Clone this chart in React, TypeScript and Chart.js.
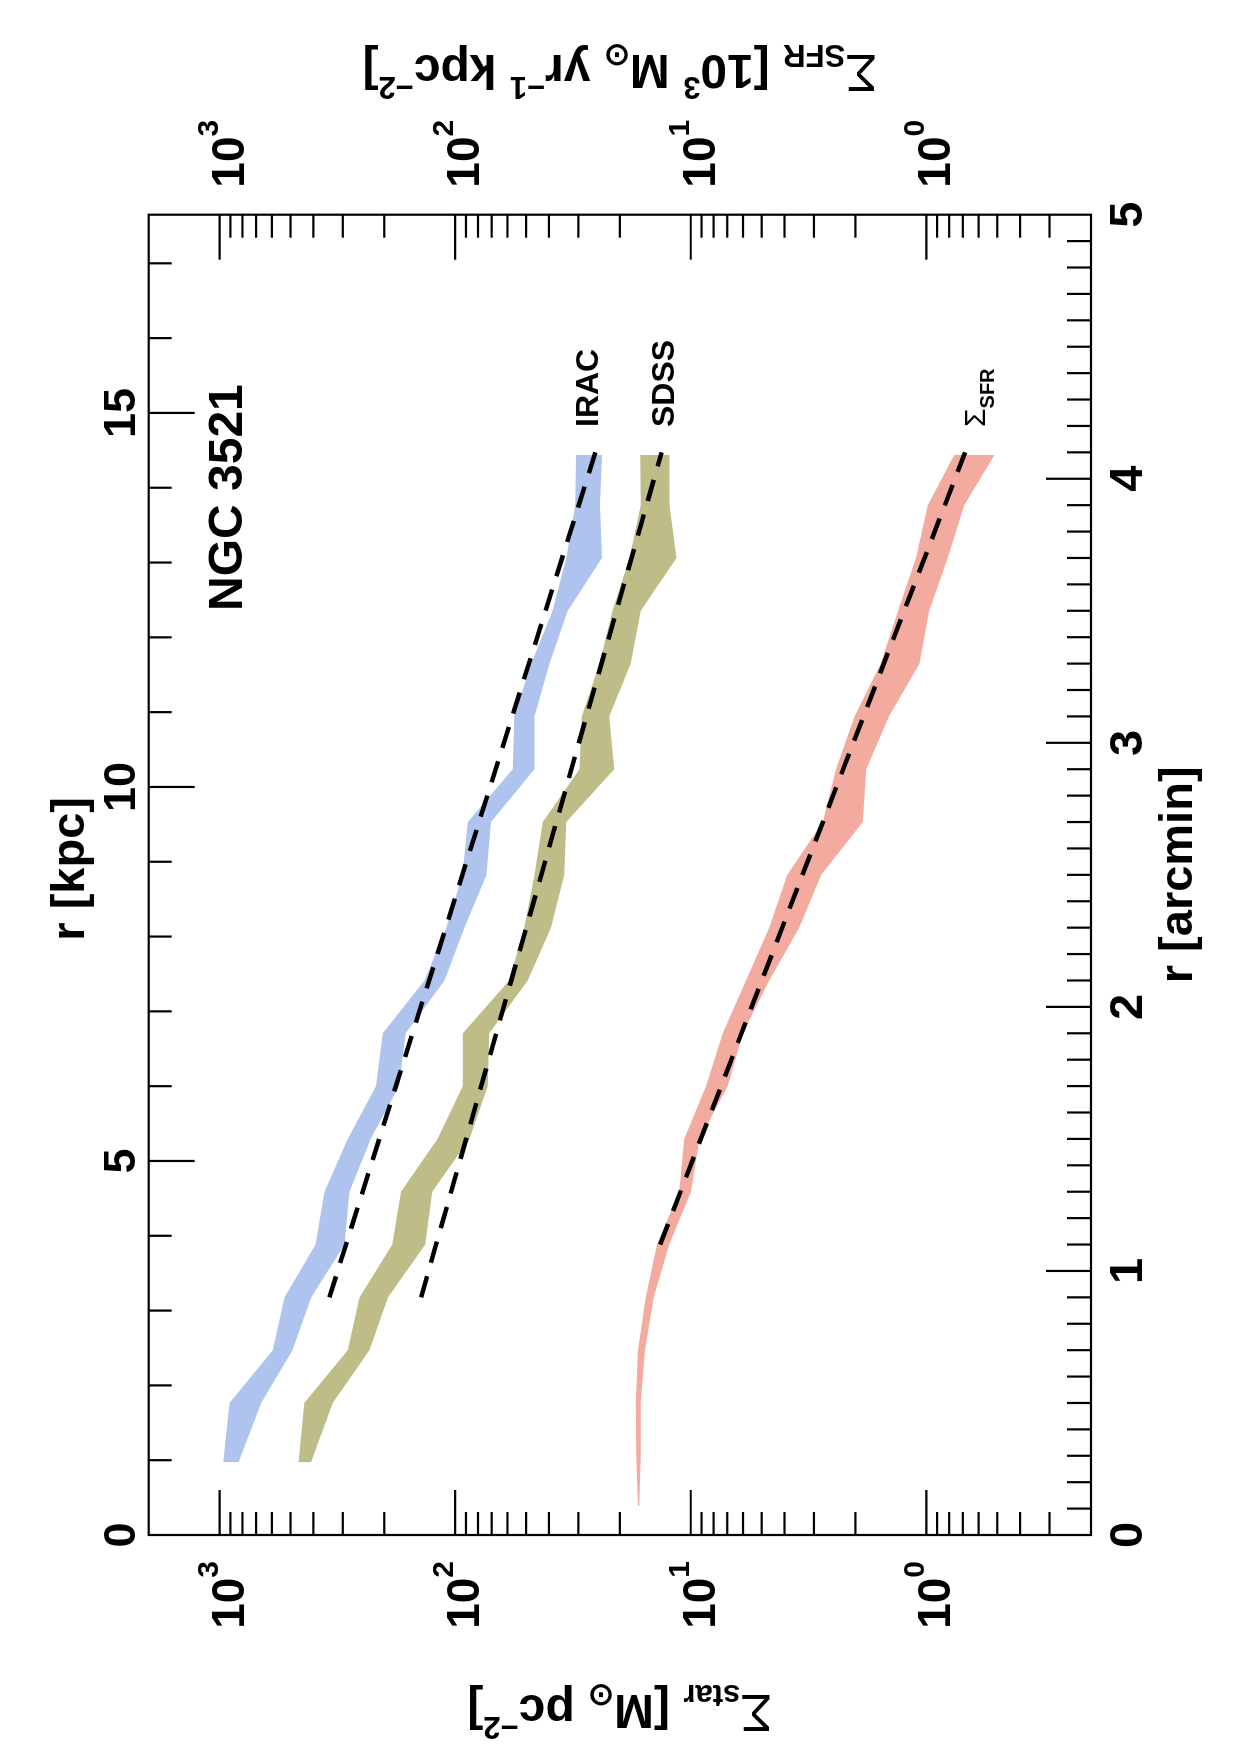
import { useEffect, useRef } from "react";
import { Chart, registerables } from "chart.js";

Chart.register(...registerables);

// Radial samples (arcmin) of the stellar-mass profiles
const R_STAR = [0.275, 0.5, 0.7, 0.9, 1.1, 1.3, 1.5, 1.7, 1.9, 2.1, 2.3, 2.5, 2.7, 2.9, 3.1, 3.3, 3.5, 3.7, 3.9, 4.09];
const IRAC_UPPER = [964, 909, 595, 531, 392, 359, 286, 217, 203, 135, 109, 93.2, 88.5, 57.0, 56.1, 47.5, 38.6, 33.8, 30.9, 30.7];
const IRAC_LOWER = [832, 665, 491, 408, 295, 281, 228, 173, 162, 111, 91.4, 73.7, 70.4, 46.1, 46.1, 39.8, 33.3, 23.8, 24.3, 23.8];
const SDSS_UPPER = [463, 437, 286, 255, 185, 170, 119, 92.9, 92.9, 58.9, 50.9, 46.1, 42.5, 29.7, 29.0, 24.4, 21.5, 18.2, 16.3, 16.4];
const SDSS_LOWER = [409, 331, 231, 193, 134, 125, 87.0, 72.8, 71.6, 49.2, 39.2, 34.4, 33.8, 21.1, 22.2, 18.0, 16.3, 11.5, 12.3, 12.3];

// Radial samples (arcmin) of the star-formation-rate profile
const R_SFR = [0.11, 0.3, 0.5, 0.7, 0.9, 1.1, 1.3, 1.5, 1.7, 1.9, 2.1, 2.3, 2.5, 2.7, 2.9, 3.1, 3.3, 3.5, 3.7, 3.9, 4.09];
const SFR_UPPER = [16.75, 17.05, 17.12, 16.75, 15.52, 13.9, 11.18, 10.65, 8.61, 7.32, 5.83, 4.64, 3.89, 2.75, 2.42, 2.02, 1.56, 1.32, 1.106, 0.987, 0.761];
const SFR_LOWER = [16.53, 16.3, 16.3, 15.63, 14.37, 12.35, 9.97, 9.19, 6.97, 6.02, 4.64, 3.46, 2.79, 1.86, 1.8, 1.44, 1.07, 0.971, 0.812, 0.69, 0.514];

// Exponential-disc fits (end points)
const FIT_STAR_R = [0.9, 4.1];
const IRAC_FIT = [342, 25.4];
const SDSS_FIT = [139.6, 13.3];
const FIT_SFR_R = [1.1, 4.1];
const SFR_FIT = [13.49, 0.684];

// Axes
const ARCMIN_TICKS = [0, 1, 2, 3, 4, 5];
const KPC_TICKS = [0, 5, 10, 15];
const SIGMA_DECADES = [0, 1, 2, 3];
const KPC_PER_ARCMIN = 3.53;
const R_MAX = 5;
const SIGMA_MIN = 0.2;
const SIGMA_MAX = 2000;

const FONT = "'Liberation Sans', Arial, Helvetica, sans-serif";
const BLUE = "#aec4ef";
const OLIVE = "#bfbd87";
const SALMON = "#f3aba0";

type Seg = { t: string; f: string; dy?: number };

function drawRich(ctx: CanvasRenderingContext2D, segs: Seg[], x: number, y: number, align: "left" | "center" | "right") {
  let w = 0;
  for (const s of segs) {
    ctx.font = s.f;
    w += ctx.measureText(s.t).width;
  }
  let cx = align === "left" ? x : align === "center" ? x - w / 2 : x - w;
  ctx.textAlign = "left";
  ctx.textBaseline = "alphabetic";
  for (const s of segs) {
    ctx.font = s.f;
    ctx.fillText(s.t, cx, y + (s.dy || 0));
    cx += ctx.measureText(s.t).width;
  }
}

const pts = (xs: number[], ys: number[]) => xs.map((x, i) => ({ x, y: ys[i] }));

const framePlugin = {
  id: "frame",
  afterDatasetsDraw(chart: any) {
    const ctx: CanvasRenderingContext2D = chart.ctx;
    const a = chart.chartArea;
    const sx = chart.scales.x;
    const sk = chart.scales.xKpc;
    const sy = chart.scales.y;
    const sy2 = chart.scales.ySfr;
    ctx.save();
    ctx.strokeStyle = "#000";
    ctx.fillStyle = "#000";
    ctx.lineWidth = 2.2;
    ctx.lineCap = "butt";
    ctx.strokeRect(a.left, a.top, a.right - a.left, a.bottom - a.top);

    const seg = (x1: number, y1: number, x2: number, y2: number) => {
      ctx.beginPath();
      ctx.moveTo(x1, y1);
      ctx.lineTo(x2, y2);
      ctx.stroke();
    };

    // arcmin axis (bottom), inward ticks
    for (let i = 1; i < R_MAX * 10; i++) {
      const px = sx.getPixelForValue(i / 10);
      seg(px, a.bottom, px, a.bottom - (i % 10 === 0 ? 45 : 24));
    }
    // kpc axis (top)
    const kmax = R_MAX * KPC_PER_ARCMIN;
    for (let k = 1; k < kmax; k++) {
      const px = sk.getPixelForValue(k);
      seg(px, a.top, px, a.top + (k % 5 === 0 ? 46 : 23));
    }
    // log axes (left and right)
    for (let d = -1; d <= 3; d++) {
      for (let m = 1; m <= 9; m++) {
        const v = m * Math.pow(10, d);
        if (v <= SIGMA_MIN * 1.001 || v >= SIGMA_MAX * 0.999) continue;
        const len = m === 1 ? 45 : 23;
        const py = sy.getPixelForValue(v);
        seg(a.left, py, a.left + len, py);
        const py2 = sy2.getPixelForValue(v);
        seg(a.right, py2, a.right - len, py2);
      }
    }

    const B46 = `bold 46px ${FONT}`;
    const B30 = `bold 30px ${FONT}`;

    // arcmin tick labels
    ctx.font = `bold 47px ${FONT}`;
    ctx.textAlign = "center";
    ctx.textBaseline = "alphabetic";
    for (const t of ARCMIN_TICKS) {
      ctx.fillText(String(t), sx.getPixelForValue(t), a.bottom + 51);
    }
    // kpc tick labels
    ctx.font = `bold 45px ${FONT}`;
    for (const t of KPC_TICKS) {
      ctx.fillText(String(t), sk.getPixelForValue(t), a.top - 14);
    }
    // decade labels
    for (const d of SIGMA_DECADES) {
      const py = sy.getPixelForValue(Math.pow(10, d));
      drawRich(ctx, [{ t: "10", f: B46 }, { t: String(d), f: B30, dy: -26 }], a.left - 26, py + 24, "right");
      const py2 = sy2.getPixelForValue(Math.pow(10, d));
      drawRich(ctx, [{ t: "10", f: B46 }, { t: String(d), f: B30, dy: -26 }], a.right + 27, py2 + 24, "left");
    }

    // axis titles
    const cxMid = (a.left + a.right) / 2;
    ctx.font = `bold 47px ${FONT}`;
    ctx.textAlign = "center";
    ctx.fillText("r [arcmin]", cxMid, a.bottom + 101);
    ctx.fillText("r [kpc]", cxMid + 6, a.top - 65);

    const T48 = `bold 48px ${FONT}`;
    const T31 = `bold 31px ${FONT}`;
    const S52 = `52px ${FONT}`;
    const cyMid = (a.top + a.bottom) / 2;
    ctx.save();
    ctx.translate(60, cyMid);
    ctx.rotate(-Math.PI / 2);
    drawRich(
      ctx,
      [
        { t: "Σ", f: S52 },
        { t: "star", f: T31, dy: 10 },
        { t: " [M", f: T48 },
        { t: "⊙", f: T31, dy: 10 },
        { t: " pc", f: T48 },
        { t: "−2", f: T31, dy: -22 },
        { t: "]", f: T48 },
      ],
      0,
      0,
      "center"
    );
    ctx.restore();

    ctx.save();
    ctx.translate(1700, cyMid);
    ctx.rotate(-Math.PI / 2);
    drawRich(
      ctx,
      [
        { t: "Σ", f: S52 },
        { t: "SFR", f: T31, dy: 10 },
        { t: " [10", f: T48 },
        { t: "3", f: T31, dy: -22 },
        { t: " M", f: T48 },
        { t: "⊙", f: T31, dy: 10 },
        { t: " yr", f: T48 },
        { t: "−1", f: T31, dy: -22 },
        { t: " kpc", f: T48 },
        { t: "−2", f: T31, dy: -22 },
        { t: "]", f: T48 },
      ],
      0,
      0,
      "center"
    );
    ctx.restore();

    // annotations
    ctx.textAlign = "left";
    ctx.font = `bold 48px ${FONT}`;
    ctx.fillText("NGC 3521", 1144, 242);
    ctx.font = `bold 32px ${FONT}`;
    ctx.fillText("IRAC", 1328, 598);
    ctx.fillText("SDSS", 1328, 674);
    drawRich(ctx, [{ t: "Σ", f: `30px ${FONT}` }, { t: "SFR", f: `bold 20px ${FONT}`, dy: 9 }], 1328, 985, "left");

    ctx.restore();
  },
};

export default function App() {
  const ref = useRef<HTMLCanvasElement>(null);

  useEffect(() => {
    const canvas = ref.current;
    if (!canvas) return;
    const band = (xs: number[], hi: number[], lo: number[], color: string) => [
      {
        data: pts(xs, hi),
        borderColor: "rgba(0,0,0,0)",
        borderWidth: 0,
        pointRadius: 0,
        fill: false,
        order: 2,
      },
      {
        data: pts(xs, lo),
        borderColor: "rgba(0,0,0,0)",
        borderWidth: 0,
        pointRadius: 0,
        backgroundColor: color,
        fill: "-1",
        order: 2,
      },
    ];
    const fit = (xs: number[], ys: number[]) => ({
      data: pts(xs, ys),
      borderColor: "#000",
      borderWidth: 4.5,
      borderDash: [22, 14],
      pointRadius: 0,
      fill: false,
      order: 0,
    });

    const chart = new Chart(canvas, {
      type: "line",
      data: {
        datasets: [
          ...band(R_STAR, IRAC_UPPER, IRAC_LOWER, BLUE),
          ...band(R_STAR, SDSS_UPPER, SDSS_LOWER, OLIVE),
          ...band(R_SFR, SFR_UPPER, SFR_LOWER, SALMON),
          fit(FIT_STAR_R, IRAC_FIT),
          fit(FIT_STAR_R, SDSS_FIT),
          fit(FIT_SFR_R, SFR_FIT),
        ] as any,
      },
      options: {
        animation: false,
        responsive: false,
        devicePixelRatio: 1,
        layout: { padding: { left: 220, right: 214.7, top: 148.7, bottom: 149 } },
        plugins: { legend: { display: false }, tooltip: { enabled: false } },
        elements: { line: { tension: 0 } },
        scales: {
          x: { type: "linear", min: 0, max: R_MAX, display: false },
          xKpc: { type: "linear", axis: "x", min: 0, max: R_MAX * KPC_PER_ARCMIN, display: false },
          y: { type: "logarithmic", min: SIGMA_MIN, max: SIGMA_MAX, display: false },
          ySfr: { type: "logarithmic", axis: "y", min: SIGMA_MIN, max: SIGMA_MAX, display: false },
        },
      },
      plugins: [framePlugin],
    } as any);
    return () => chart.destroy();
  }, []);

  return (
    <div
      style={{
        position: "absolute",
        left: 0,
        top: 0,
        width: 1240,
        height: 1755,
        background: "#ffffff",
        overflow: "hidden",
      }}
    >
      <canvas
        ref={ref}
        width={1755}
        height={1240}
        style={{
          position: "absolute",
          left: 0,
          top: 0,
          width: 1755,
          height: 1240,
          transformOrigin: "0 0",
          transform: "translateY(1755px) rotate(-90deg)",
        }}
      />
    </div>
  );
}
